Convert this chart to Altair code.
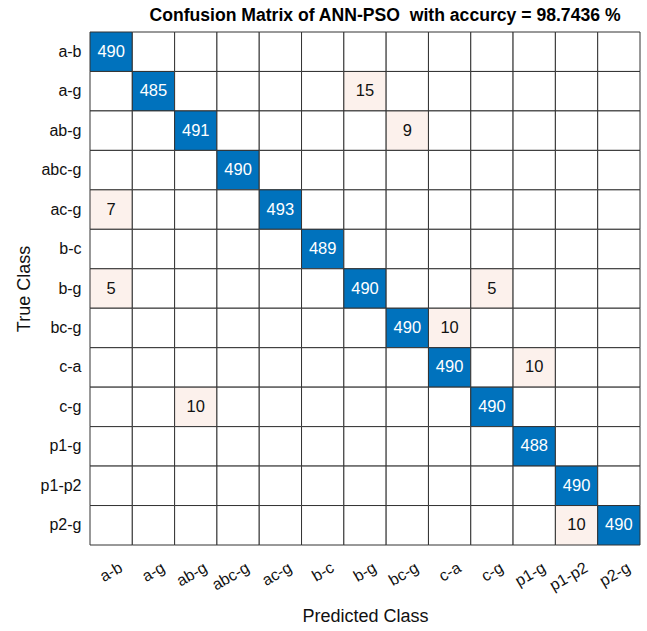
import altair as alt
import pandas as pd

classes = ["a-b", "a-g", "ab-g", "abc-g", "ac-g", "b-c", "b-g", "bc-g",
           "c-a", "c-g", "p1-g", "p1-p2", "p2-g"]

true_cls = ["a-b", "a-g", "a-g", "ab-g", "ab-g", "abc-g", "ac-g", "ac-g",
            "b-c", "b-g", "b-g", "b-g", "bc-g", "bc-g", "c-a", "c-a",
            "c-g", "c-g", "p1-g", "p1-p2", "p2-g", "p2-g"]
pred_cls = ["a-b", "a-g", "b-g", "ab-g", "bc-g", "abc-g", "a-b", "ac-g",
            "b-c", "a-b", "b-g", "c-g", "bc-g", "c-a", "c-a", "p1-g",
            "ab-g", "c-g", "p1-g", "p1-p2", "p1-p2", "p2-g"]
counts = [490, 485, 15, 491, 9, 490, 7, 493,
          489, 5, 490, 5, 490, 10, 490, 10,
          10, 490, 488, 490, 10, 490]

lookup = {(t, p): c for t, p, c in zip(true_cls, pred_cls, counts)}
rows = []
for t in classes:
    for p in classes:
        c = lookup.get((t, p), 0)
        if c == 0:
            kind = "empty"
        elif t == p:
            kind = "diag"
        else:
            kind = "off"
        rows.append({"true": t, "pred": p, "count": c, "kind": kind,
                     "label": str(c) if c > 0 else ""})
df = pd.DataFrame(rows)

FONT = "Liberation Sans"

base = alt.Chart(df)

cells = base.mark_rect(stroke="#333333", strokeWidth=1).encode(
    x=alt.X("pred:N", sort=classes,
            scale=alt.Scale(paddingInner=0, paddingOuter=0),
            axis=alt.Axis(title="Predicted Class", labelAngle=-30,
                          labelFontSize=16, titleFontSize=18,
                          titleFontWeight="normal", labelPadding=14,
                          labelOffset=6,
                          titlePadding=14, ticks=False, domain=False,
                          labelFont=FONT, titleFont=FONT,
                          labelColor="#111", titleColor="#111")),
    y=alt.Y("true:N", sort=classes,
            scale=alt.Scale(paddingInner=0, paddingOuter=0),
            axis=alt.Axis(title="True Class", labelFontSize=16,
                          titleFontSize=18, titleFontWeight="normal",
                          labelPadding=9, titlePadding=7, ticks=False,
                          domain=False, labelFont=FONT, titleFont=FONT,
                          labelColor="#111", titleColor="#111")),
    color=alt.Color("kind:N",
                    scale=alt.Scale(domain=["diag", "off", "empty"],
                                    range=["#0072BD", "#FCF1EC", "#FFFFFF"]),
                    legend=None),
)

texts = base.mark_text(fontSize=16.5, font=FONT).encode(
    x=alt.X("pred:N", sort=classes),
    y=alt.Y("true:N", sort=classes),
    text="label:N",
    color=alt.Color("kind:N",
                    scale=alt.Scale(domain=["diag", "off", "empty"],
                                    range=["#FFFFFF", "#111111", "#111111"]),
                    legend=None),
)

chart = alt.layer(cells, texts).resolve_scale(color="independent").properties(
    width=550, height=513,
    autosize=alt.AutoSizeParams(type="none"),
    padding={"left": 90, "top": 32, "right": 7, "bottom": 86},
    title=alt.TitleParams("Confusion Matrix of ANN-PSO\u00a0 with accurcy = 98.7436 %",
                          font=FONT, fontSize=17.6, fontWeight="bold",
                          color="#000", offset=7, dx=20),
).configure_view(stroke=None)

chart.save("out.html", embed_options={"renderer": "svg", "actions": False})
